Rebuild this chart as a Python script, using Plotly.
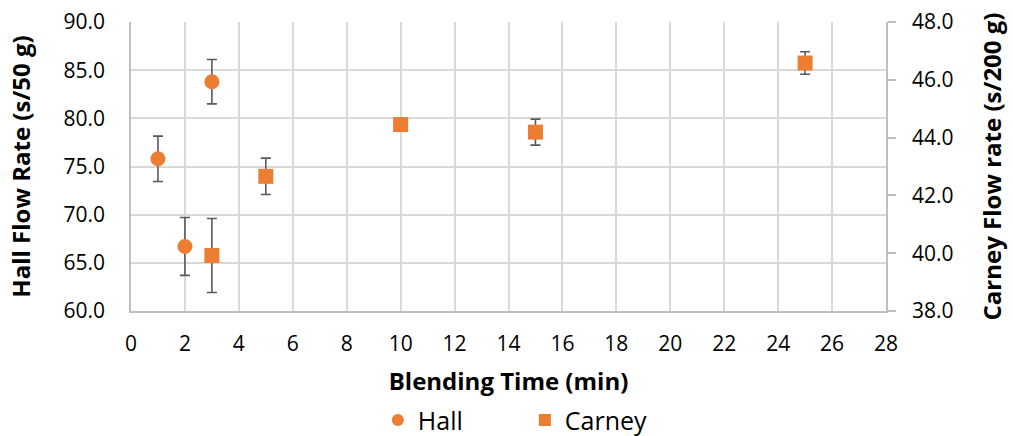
import plotly.graph_objects as go

# Hall flow (left axis, s/50 g)
hall_time = [1, 2, 3]
hall_flow = [75.8, 66.7, 83.8]
hall_err = [2.35, 3.0, 2.3]

# Carney flow (right axis, s/200 g)
carney_time = [3, 5, 10, 15, 25]
carney_flow = [39.92, 42.66, 44.45, 44.19, 46.58]
carney_err = [1.28, 0.63, 0.0, 0.45, 0.39]

x_ticks = list(range(0, 29, 2))
orange = "#ED7D31"
err_color = "#595959"
grid = "#D9D9D9"
axis_line = "#BFBFBF"
font_fam = "Open Sans, Liberation Sans, sans-serif"

fig = go.Figure()
fig.add_trace(go.Scatter(
    x=hall_time, y=hall_flow, name="Hall", mode="markers",
    marker=dict(symbol="circle", size=15, color=orange),
    error_y=dict(type="data", array=hall_err, color=err_color, thickness=1.6, width=5),
))
fig.add_trace(go.Scatter(
    x=carney_time, y=carney_flow, name="Carney", mode="markers", yaxis="y2",
    marker=dict(symbol="square", size=15, color=orange),
    error_y=dict(type="data", array=carney_err, color=err_color, thickness=1.6, width=5),
))

fig.update_layout(
    width=1013, height=436,
    margin=dict(l=131, r=127, t=22, b=125, autoexpand=False),
    paper_bgcolor="white", plot_bgcolor="white",
    font=dict(family=font_fam, size=21, color="#000000"),
    xaxis=dict(
        range=[0, 28], tickvals=x_ticks, showgrid=True, gridcolor=grid, gridwidth=1.5,
        showline=True, linecolor=axis_line, linewidth=1.5, zeroline=False,
        ticks="", ticklabelstandoff=13, tickfont=dict(size=21), automargin=False,
        title=dict(text="<b>Blending Time (min)</b>", font=dict(size=24), standoff=18),
    ),
    yaxis=dict(
        range=[60, 90], dtick=5, tickformat=".1f", showgrid=True, gridcolor=grid, gridwidth=1.5,
        showline=True, linecolor=axis_line, linewidth=1.5, zeroline=False, ticks="",
        ticklabelstandoff=20, tickfont=dict(size=21), automargin=False,
        title=dict(text="<b>Hall Flow Rate (s/50 g)</b>", font=dict(size=24), standoff=26),
    ),
    yaxis2=dict(
        range=[38, 48], dtick=2, tickformat=".1f", overlaying="y", side="right",
        showgrid=False, showline=True, linecolor=axis_line, linewidth=1.5, zeroline=False,
        ticks="outside", ticklen=8, tickcolor=axis_line, tickwidth=1.5,
        ticklabelstandoff=12, tickfont=dict(size=21), automargin=False,
        title=dict(text="<b>Carney Flow rate (s/200 g)</b>", font=dict(size=24), standoff=32),
    ),
    legend=dict(
        orientation="h", x=0.373, xanchor="left", xref="container",
        y=0.036, yanchor="middle", yref="container",
        font=dict(size=25), itemsizing="constant", traceorder="normal",
        entrywidth=102,
    ),
    showlegend=True,
)

fig.write_html("out.html")
